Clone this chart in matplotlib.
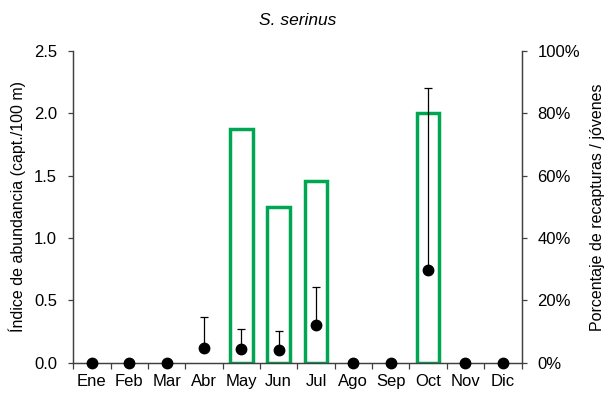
import matplotlib.pyplot as plt
import matplotlib.ticker as mticker

plt.rcParams['font.family'] = ['Liberation Sans', 'DejaVu Sans']

# meses
meses = ['Ene', 'Feb', 'Mar', 'Abr', 'May', 'Jun', 'Jul', 'Ago', 'Sep', 'Oct', 'Nov', 'Dic']
# índice de abundancia (media) y error superior
abundancia = [0, 0, 0, 0.12, 0.11, 0.10, 0.30, 0, 0, 0.74, 0, 0]
error_sup = [0, 0, 0, 0.25, 0.16, 0.155, 0.31, 0, 0, 1.46, 0, 0]
# porcentaje de recapturas / jóvenes
porcentaje = [0, 0, 0, 0, 75, 50, 58.3, 0, 0, 80, 0, 0]

fig = plt.figure(figsize=(6.05, 3.96), dpi=100)
ax = fig.add_axes([0.121, 0.084, 0.741, 0.787])
ax2 = ax.twinx()

x = list(range(len(meses)))
gris = '#404040'

# barras huecas (eje derecho)
barras_x = [i for i, p in enumerate(porcentaje) if p > 0]
barras_h = [porcentaje[i] for i in barras_x]
ax2.bar(barras_x, barras_h, width=0.6, facecolor='none', edgecolor='#00a651', linewidth=2.5, zorder=2)
ax2.set_ylim(0, 100)
ax2.set_yticks([0, 20, 40, 60, 80, 100])
ax2.yaxis.set_major_formatter(mticker.FuncFormatter(lambda v, p: '%d%%' % v))
ax2.set_ylabel('Porcentaje de recapturas / jóvenes', fontsize=11.5, labelpad=7)

# puntos con barra de error superior (eje izquierdo)
ax.set_zorder(ax2.get_zorder() + 1)
ax.patch.set_visible(False)
ax.errorbar(x, abundancia, yerr=[[0] * 12, error_sup], fmt='o', color='black',
            markersize=7.5, ecolor='black', elinewidth=0.9, capsize=3, capthick=0.9,
            clip_on=False, zorder=3)
ax.set_ylim(0, 2.5)
ax.set_xlim(-0.5, 11.5)
ax.set_yticks([0, 0.5, 1.0, 1.5, 2.0, 2.5])
ax.yaxis.set_major_formatter(mticker.FormatStrFormatter('%.1f'))
ax.set_ylabel('Índice de abundancia (capt./100 m)', fontsize=11.5, labelpad=6)

# etiquetas de meses y marcas entre categorías
ax.set_xticks(x)
ax.set_xticklabels(meses)
ax.tick_params(axis='x', which='major', length=0, pad=8)
ax.set_xticks([i + 0.5 for i in range(-1, 12)], minor=True)
ax.tick_params(axis='x', which='minor', length=4, direction='out', width=0.9, color=gris)

for a in (ax, ax2):
    a.spines['top'].set_visible(False)
    for s in ('left', 'right', 'bottom'):
        a.spines[s].set_color(gris)
        a.spines[s].set_linewidth(0.9)
    a.tick_params(axis='y', length=3.5, width=0.9, color=gris, labelsize=12, pad=8)
    a.tick_params(axis='x', labelsize=12)

ax.set_title('S. serinus', fontsize=12.5, style='italic', pad=19)

fig.savefig('out.png', dpi=100)
